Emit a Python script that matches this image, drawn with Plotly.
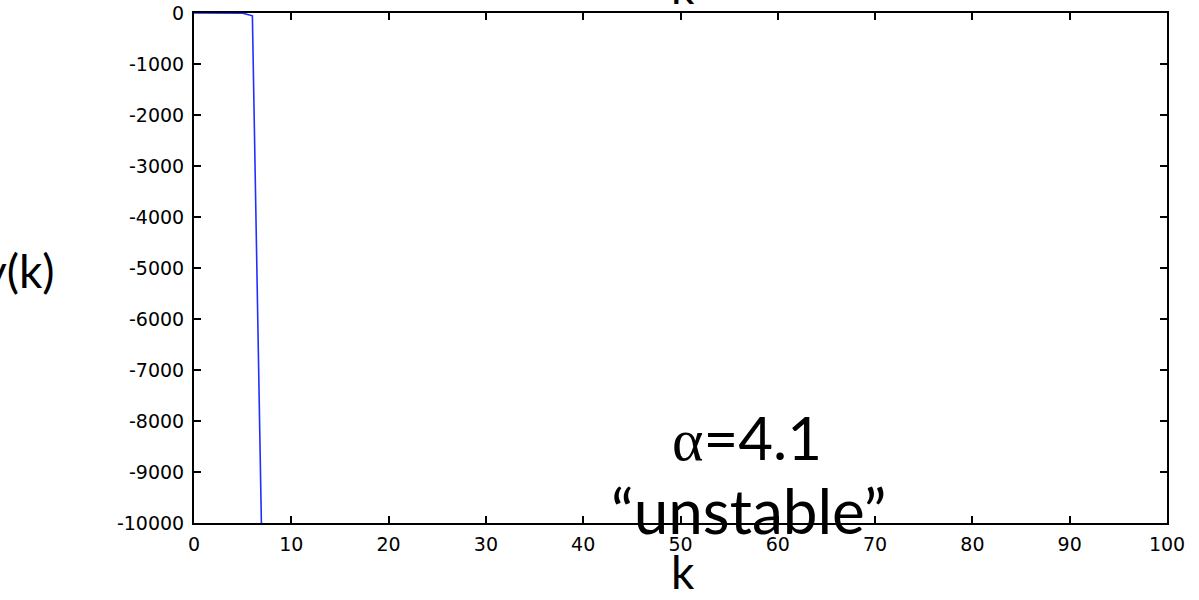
import plotly.graph_objects as go

# data
k_vals = [0, 1, 2, 3, 4, 5, 6, 7]
y_vals = [0.3, 0.86, 0.49, 1.03, -0.12, -3, -55, -10800]
x_ticks = [0, 10, 20, 30, 40, 50, 60, 70, 80, 90, 100]
y_ticks = [0, -1000, -2000, -3000, -4000, -5000, -6000, -7000, -8000, -9000, -10000]

W, H = 1199, 600
L, R, T, B = 194, 32, 13, 77
pw, ph = W - L - R, H - T - B

fig = go.Figure()
fig.add_trace(go.Scatter(x=k_vals, y=y_vals, mode="lines",
                         line=dict(color="#2030ff", width=1.6), showlegend=False,
                         cliponaxis=True))

axis_common = dict(showgrid=False, zeroline=False, showline=True, linecolor="black",
                   linewidth=2, mirror="ticks", ticks="inside", ticklen=7,
                   tickcolor="black", tickwidth=1.5, automargin=False,
                   tickfont=dict(family="DejaVu Sans", size=19, color="black"))

fig.update_layout(
    width=W, height=H,
    margin=dict(l=L, r=R, t=T, b=B, pad=0),
    paper_bgcolor="white", plot_bgcolor="white",
    xaxis=dict(range=[0, 100], tickvals=x_ticks, ticktext=[str(v) for v in x_ticks],
               ticklabelstandoff=3, **axis_common),
    yaxis=dict(range=[-10000, 0], tickvals=y_ticks, ticktext=[str(v) for v in y_ticks],
               ticklabelstandoff=4, **axis_common),
)

lab_font = dict(family="Lato", size=46, color="black")
# y-axis label (partially clipped by left edge)
fig.add_annotation(xref="paper", yref="paper", x=(57 - L) / pw, y=1 - (270 - T) / ph,
                   xanchor="right", yanchor="middle", text="y(k)", showarrow=False,
                   font=lab_font)
# bottom x label
fig.add_annotation(xref="paper", yref="paper", x=(683 - L) / pw, y=1 - (571 - T) / ph,
                   xanchor="center", yanchor="middle", text="k", showarrow=False,
                   font=lab_font)
# top clipped label
fig.add_annotation(xref="paper", yref="paper", x=(683 - L) / pw, y=1 - (-13 - T) / ph,
                   xanchor="center", yanchor="middle", text="k", showarrow=False,
                   font=lab_font)
# annotations
fig.add_annotation(xref="paper", yref="paper", x=(747 - L) / pw, y=1 - (437 - T) / ph,
                   xanchor="center", yanchor="middle",
                   text="<span style='font-family:Liberation Serif'>α</span>=4.1",
                   showarrow=False, font=dict(family="Lato", size=60, color="black"))
fig.add_annotation(xref="paper", yref="paper", x=(748 - L) / pw, y=1 - (510 - T) / ph,
                   xanchor="center", yanchor="middle", text="“unstable”",
                   showarrow=False, font=dict(family="Lato", size=62, color="black"))

fig.write_html("out.html")
